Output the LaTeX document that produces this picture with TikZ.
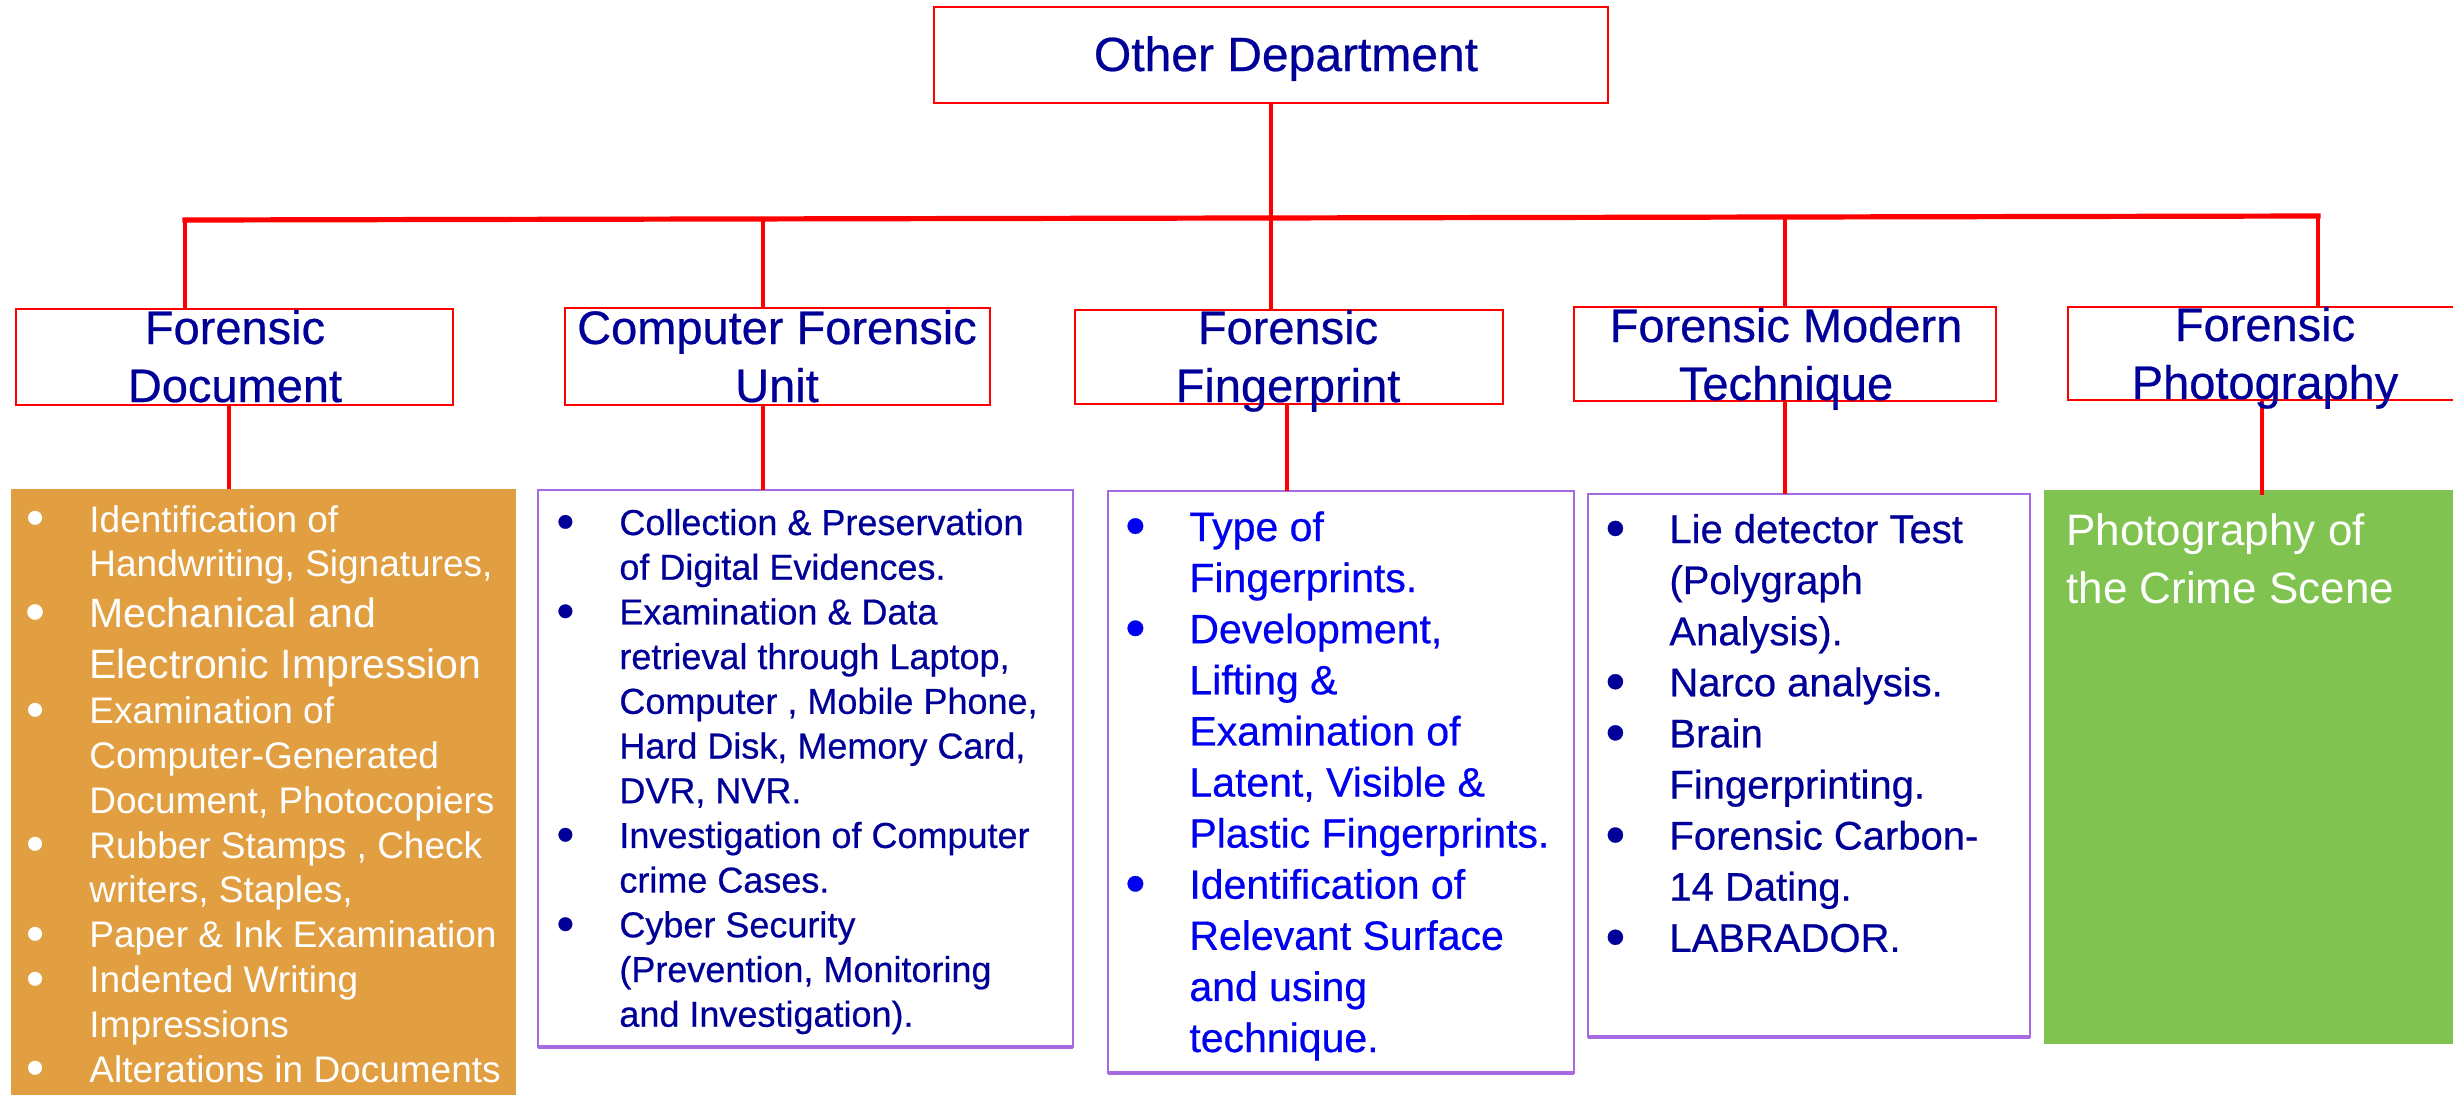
\documentclass[tikz,border=0pt]{standalone}
\usepackage{fontspec}
\setmainfont{Liberation Sans}
\newfontfamily\heavier[FakeBold=0.5]{Liberation Sans}
\usetikzlibrary{fit}
\definecolor{lred}{RGB}{255,0,0}
\definecolor{navy}{RGB}{0,0,153}
\definecolor{fblue}{RGB}{0,0,240}
\definecolor{lpurple}{RGB}{166,106,226}
\definecolor{orangebox}{RGB}{226,159,66}
\definecolor{greenbox}{RGB}{129,195,80}
\newlength\bw \setlength\bw{27pt}
\newcommand\bdot{\raisebox{-0.1em}{\scalebox{1.4}{•}}}
\newcommand\bitem[1]{\noindent\makebox[\bw][l]{\makebox[0pt][c]{\bdot}}#1\par}
\newcommand\bcont[1]{\noindent\hspace*{\bw}#1\par}
\newcommand\plainln[1]{\noindent#1\par}
\newcommand\twolines[2]{\begin{tabular}[t]{@{}c@{}}#1\\#2\end{tabular}}
\tikzset{
  redbox/.style={draw=lred, line width=1.4pt, inner sep=0pt, outer sep=0pt},
  purplebox/.style={draw=lpurple, line width=1.25pt, fill=white, inner sep=0pt, outer sep=0pt},
  fillbox/.style={inner sep=0pt, outer sep=0pt},
  conn/.style={draw=lred, line width=2pt},
  barline/.style={draw=lred, line width=2.6pt, line cap=rect},
  hdtext/.style={anchor=base, inner sep=0pt, text=navy, font=\heavier\fontsize{23.5}{29}\selectfont},
  btext/.style={anchor=base west, inner sep=0pt},
}
\begin{document}
\begin{tikzpicture}[x=0.5pt, y=-0.5pt]
\useasboundingbox (0,0) rectangle (2453,1094);
% top box
\node[redbox, fit={(934,7) (1608,103)}] (top) {};
\node[anchor=base, inner sep=0pt, text=navy, font=\heavier\fontsize{24}{29}\selectfont] (toptxt) at (1286,71) {Other Department};
% header boxes
\node[redbox, fit={(16,309) (453,405)}] (h1) {};
\node[redbox, fit={(565,308) (990,405)}] (h2) {};
\node[redbox, fit={(1075,310) (1503,404)}] (h3) {};
\node[redbox, fit={(1574,307) (1996,401)}] (h4) {};
\node[redbox, fit={(2068,307) (2462,400)}] (h5) {};
% body boxes
\node[fillbox, fill=orangebox, fit={(11,489) (516,1100)}] (b1) {};
\node[purplebox, fit={(538,490) (1073,1047)}] (b2) {};
\node[purplebox, fit={(1108,491) (1574,1073)}] (b3) {};
\node[purplebox, fit={(1588,494) (2030,1037)}] (b4) {};
\node[fillbox, fill=greenbox, fit={(2044,490) (2460,1044)}] (b5) {};
\draw[lpurple, line width=2pt] (b2.south west) -- (b2.south east);
\draw[lpurple, line width=2pt] (b3.south west) -- (b3.south east);
\draw[lpurple, line width=2pt] (b4.south west) -- (b4.south east);
% bar and drops
\coordinate (j1) at (185,220);
\coordinate (j2) at (763,219);
\coordinate (j3) at (1271,218);
\coordinate (j4) at (1785,217);
\coordinate (j5) at (2318,216);
\draw[barline] (j1) -- (j5);
\draw[conn, line width=2.2pt] (top.south) -- (j3);
\draw[conn] (j1) -- (j1 |- h1.north);
\draw[conn] (j2) -- (j2 |- h2.north);
\draw[conn] (j3) -- (j3 |- h3.north);
\draw[conn] (j4) -- (j4 |- h4.north);
\draw[conn] (j5) -- (j5 |- h5.north);
% lower connectors
\path (h1.south) ++(-5.5,0) coordinate (c1);
\path (h2.south) ++(-14.5,0) coordinate (c2);
\path (h3.south) ++(-2,0) coordinate (c3);
\path (h4.south) ++(0,0) coordinate (c4);
\path (h5.south) ++(-3,0) coordinate (c5);
\draw[conn] (c1) -- (c1 |- b1.north);
\draw[conn] (c2) -- (c2 |- b2.north);
\draw[conn] (c3) -- (c3 |- b3.north);
\draw[conn] (c4) -- (c4 |- b4.north);
\draw[conn] (c5) -- ([yshift=-2.5pt]c5 |- b5.north);
% header texts
\node[hdtext] (ht1) at (235,344) {\twolines{Forensic}{Document}};
\node[hdtext] (ht2) at (777,344) {\twolines{Computer Forensic}{Unit}};
\node[hdtext] (ht3) at (1288,344) {\twolines{Forensic}{Fingerprint}};
\node[hdtext] (ht4) at (1786,342) {\twolines{Forensic Modern}{Technique}};
\node[hdtext] (ht5) at (2265,341) {\twolines{Forensic}{Photography}};
% body texts
\node[btext, text=white, font=\fontsize{18.5}{22.4}\selectfont] (bt1) at (35,532) {\begin{minipage}[t]{300pt}
\bitem{Identification of}
\bcont{Handwriting, Signatures,}
{\fontsize{20.5}{25.5}\selectfont
\bitem{Mechanical and}
\bcont{Electronic Impression}}
\bitem{Examination of}
\bcont{Computer-Generated}
\bcont{Document, Photocopiers}
\bitem{Rubber Stamps , Check}
\bcont{writers, Staples,}
\bitem{Paper \& Ink Examination}
\bitem{Indented Writing}
\bcont{Impressions}
\bitem{Alterations in Documents}
\end{minipage}};
\node[btext, text=navy, font=\heavier\fontsize{18}{22.35}\selectfont] (bt2) at (565,535) {\begin{minipage}[t]{300pt}
\bitem{Collection \& Preservation}
\bcont{of Digital Evidences.}
\bitem{Examination \& Data}
\bcont{retrieval through Laptop,}
\bcont{Computer , Mobile Phone,}
\bcont{Hard Disk, Memory Card,}
\bcont{DVR, NVR.}
\bitem{Investigation of Computer}
\bcont{crime Cases.}
\bitem{Cyber Security}
\bcont{(Prevention, Monitoring}
\bcont{and Investigation).}
\end{minipage}};
\node[btext, text=fblue, font=\heavier\fontsize{20.5}{25.55}\selectfont] (bt3) at (1135,541) {\begin{minipage}[t]{300pt}
\bitem{Type of}
\bcont{Fingerprints.}
\bitem{Development,}
\bcont{Lifting \&}
\bcont{Examination of}
\bcont{Latent, Visible \&}
\bcont{Plastic Fingerprints.}
\bitem{Identification of}
\bcont{Relevant Surface}
\bcont{and using}
\bcont{technique.}
\end{minipage}};
\node[btext, text=navy, font=\heavier\fontsize{20}{25.55}\selectfont] (bt4) at (1615,543) {\begin{minipage}[t]{300pt}
\bitem{Lie detector Test}
\bcont{(Polygraph}
\bcont{Analysis).}
\bitem{Narco analysis.}
\bitem{Brain}
\bcont{Fingerprinting.}
\bitem{Forensic Carbon-}
\bcont{14 Dating.}
\bitem{LABRADOR.}
\end{minipage}};
\node[btext, text=white, font=\fontsize{22}{29}\selectfont] (bt5) at (2066,545) {\begin{minipage}[t]{300pt}
\plainln{Photography of}
\plainln{the Crime Scene}
\end{minipage}};
\end{tikzpicture}
\end{document}
